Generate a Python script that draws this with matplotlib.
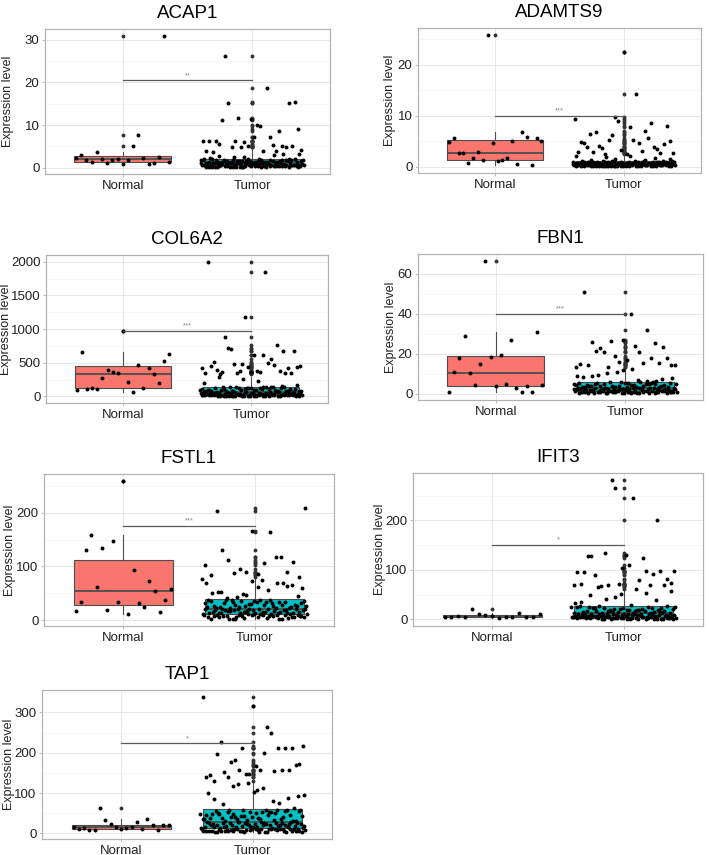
import numpy as np
import matplotlib
matplotlib.use("Agg")
import matplotlib.pyplot as plt
from matplotlib.ticker import MultipleLocator

plt.rcParams['font.family'] = ['Liberation Sans', 'DejaVu Sans']

# ---------- datos ----------
genes = ["ACAP1", "ADAMTS9", "COL6A2", "FBN1", "FSTL1", "IFIT3", "TAP1"]
groups = ["Normal", "Tumor"]

# Normal: valores en orden de izquierda a derecha
acap1_normal = [2.35, 2.9, 1.8, 1.3, 3.6, 1.95, 1.0, 1.8, 2.1, 0.85, 1.7, 5.1, 7.6, 2.3, 0.85, 1.2, 2.6, 31, 1.25]
adamts9_normal = [4.9, 5.7, 2.7, 2.6, 0.7, 1.7, 2.8, 1.2, 25.9, 4.6, 1.1, 1.3, 1.7, 5.1, 0.5, 6.8, 5.8, 0.3, 5.6, 5.1]
col6a2_normal = [99, 657, 118, 133, 114, 267, 390, 370, 346, 978, 212, 59, 474, 123, 425, 341, 198, 523, 632]
fbn1_normal = [0.8, 11.1, 18.0, 28.9, 10.6, 4.5, 15.0, 66.5, 18.3, 4.0, 19.6, 5.0, 27.1, 2.7, 0.7, 4.0, 1.0, 30.7, 4.2]
fstl1_normal = [17.5, 33, 130, 158, 62.5, 134, 18, 147, 33, 259, 11, 94, 32, 24, 72.5, 54, 16, 37, 58]
ifit3_normal = [5.3, 5.3, 6.7, 5.3, 20.7, 10.7, 8.7, 6.7, 2.7, 4.0, 5.3, 13.3, 4.0, 4.0, 10.7]
tap1_normal = [16, 10.6, 14.7, 8, 9, 63.6, 32.6, 23, 16, 11, 13, 16, 27.7, 12, 36.7, 20.4, 8, 20.4, 20.4]

# Tumor: puntos altos visibles (izq -> der)
acap1_tumor_hi = [6.3, 3.8, 6.2, 3.6, 6.2, 5.6, 11.1, 26.2, 15.1, 4.9, 6.3, 11.6, 4.9, 6.0, 5.2, 11.4, 7.3, 10.0,
                  9.7, 3.8, 18.6, 7.1, 5.3, 3.8, 8.5, 5.2, 4.9, 15.2, 5.2, 15.4, 9.1, 4.1]
adamts9_tumor_hi = [9.4, 2.8, 4.9, 4.7, 3.9, 6.4, 2.9, 6.8, 4.1, 3.7, 2.5, 5.3, 6.2, 9.8, 8.9, 3.2, 22.5, 2.4, 7.7,
                    5.2, 14.3, 4.6, 3.0, 6.9, 5.7, 8.6, 3.9, 3.5, 2.7, 4.4, 7.9, 5.0, 2.6]
col6a2_tumor_hi = [420, 346, 2000, 454, 509, 400, 341, 370, 884, 726, 706, 479, 346, 375, 479, 1185, 444, 370, 617,
                   380, 370, 617, 1850, 499, 558, 469, 760, 385, 681, 350, 430, 346, 681, 444, 449]
fbn1_tumor_hi = [13.6, 14.8, 51, 14.3, 26, 21.6, 22.8, 20.8, 13.6, 26.4, 19, 16, 27, 17, 40, 24, 20.8, 15.6, 32,
                 17.8, 25.3, 15.3, 23.6, 18.1, 14.5, 14.5]
fstl1_tumor_hi = [102, 84, 203, 131, 112, 88, 96, 90, 165, 85, 106, 164, 117, 117, 89, 109, 81, 209]
ifit3_tumor_hi = [70, 95, 72, 95, 128, 128, 90, 65, 67, 134, 70, 282, 266, 71, 104, 131, 110, 245, 62, 80, 125, 97,
                  70, 91, 201, 97, 70, 82, 73, 97]
tap1_tumor_hi = [339, 141, 145, 131, 196, 227, 152, 139, 176, 183, 157, 211, 148, 147, 315, 167, 157, 200, 263, 249,
                 155, 212, 157, 212, 157, 211, 170, 173, 217]

# Tumor: masa densa de abajo (estimada)
acap1_tumor_lo = [0.12, 0.35, 0.51, 0.08, 0.44, 0.27, 0.58, 0.19, 0.39, 0.55, 0.31, 0.06, 0.47, 0.22, 0.41, 0.15,
                  0.53, 0.29, 0.37, 0.10, 0.49, 0.25, 0.57, 0.33, 0.18, 0.45, 0.09, 0.52, 0.28, 0.40, 0.14, 0.56,
                  0.23, 0.36, 0.48, 0.11, 0.43, 0.30, 0.54, 0.20,
                  0.62, 0.95, 1.15, 0.71, 0.88, 1.05, 0.66, 0.99, 0.78, 1.18, 0.83, 0.69, 1.09, 0.92, 0.74, 1.12,
                  0.64, 0.86, 1.02, 0.97, 0.76, 1.14, 0.68, 0.90, 1.07, 0.81, 0.73, 1.17, 0.94, 0.63, 1.00, 0.85,
                  0.79, 1.11, 0.67, 0.93, 1.04, 0.72, 0.89, 1.19,
                  1.25, 1.62, 1.88, 1.34, 1.71, 1.45, 1.95, 1.28, 1.56, 1.80, 1.39, 1.67, 1.22, 1.91, 1.50, 1.76,
                  1.31, 1.59, 1.84, 1.42, 1.98, 1.27, 1.65, 1.48, 1.73, 1.36, 1.86, 1.53, 1.21, 1.69, 1.44, 1.93,
                  1.33, 1.78, 1.57, 1.24, 1.82, 1.40, 1.61, 1.97, 1.47,
                  2.2, 2.9, 2.5, 3.3, 2.1, 2.7, 3.1, 2.4, 2.05]
adamts9_tumor_lo = [0.05, 0.21, 0.12, 0.28, 0.08, 0.17, 0.25, 0.03, 0.14, 0.23, 0.10, 0.19, 0.27, 0.06, 0.16, 0.24,
                    0.09, 0.20, 0.13, 0.29, 0.04, 0.18, 0.26, 0.11, 0.22, 0.07, 0.15, 0.28, 0.10, 0.19, 0.25, 0.05,
                    0.14, 0.23, 0.08, 0.17, 0.27, 0.12, 0.21, 0.06, 0.16,
                    0.31, 0.45, 0.58, 0.36, 0.52, 0.41, 0.33, 0.49, 0.55, 0.38, 0.44, 0.32, 0.57, 0.47, 0.35, 0.51,
                    0.40, 0.59, 0.43, 0.34, 0.54, 0.39, 0.48, 0.30, 0.56, 0.42, 0.37, 0.50, 0.46, 0.53, 0.33, 0.44,
                    0.58, 0.36, 0.49, 0.41, 0.55, 0.38, 0.52, 0.47,
                    0.62, 0.85, 1.02, 0.71, 0.94, 0.66, 0.79, 1.08, 0.88, 0.74, 0.97, 0.64, 0.82, 1.05, 0.69, 0.91,
                    0.77, 1.00, 0.63, 0.86, 0.73, 0.95, 1.07, 0.68, 0.84, 0.99, 0.75, 0.61, 0.90, 1.04, 0.80, 0.67,
                    0.93, 0.72, 1.09, 0.87, 0.65, 0.98, 0.78, 0.83, 1.01,
                    1.3, 1.9, 1.5, 2.1, 1.2, 1.7, 1.4, 2.0]
col6a2_tumor_lo = [5, 18, 11, 23, 8, 15, 21, 4, 13, 19, 9, 24, 16, 6, 12, 22, 10, 17, 7, 20, 14, 3, 18, 11, 24, 8,
                   15, 21, 5, 13, 19, 9, 23, 16, 6, 12, 22, 10, 17, 14,
                   28, 45, 62, 33, 51, 38, 67, 30, 55, 42, 26, 48, 59, 35, 64, 40, 53, 29, 46, 68, 36, 57, 31, 44,
                   61, 27, 50, 39, 65, 34, 47, 58, 32, 43, 63, 37, 52, 41, 56, 49, 60, 35,
                   75, 110, 138, 88, 125, 95, 147, 82, 118, 102, 72, 133, 91, 115, 142, 79, 106, 128, 85, 98, 145,
                   77, 121, 93, 136, 108, 81, 113, 140, 73, 100, 130, 87, 119, 96, 144, 104, 84, 127, 90, 134, 78,
                   175, 230, 290, 160, 255, 200]
fbn1_tumor_lo = [0.3, 1.1, 0.7, 1.4, 0.5, 0.9, 1.2, 0.4, 0.8, 1.3, 0.6, 1.0, 0.2, 1.4, 0.7, 1.1, 0.5, 0.9, 1.3, 0.3,
                 0.8, 1.2, 0.6, 1.0, 0.4, 1.4, 0.7, 1.1, 0.5, 0.9, 1.3, 0.2, 0.8, 1.2, 0.6, 1.0, 0.4, 1.3, 0.9,
                 1.6, 2.3, 2.8, 1.9, 2.5, 1.7, 2.1, 2.9, 1.5, 2.4, 2.0, 2.7, 1.8, 2.2, 2.6, 1.6, 2.9, 2.0, 2.4, 1.7,
                 2.7, 1.9, 2.3, 2.8, 1.5, 2.1, 2.5, 1.8, 2.6, 2.2, 1.6, 2.9, 2.0, 2.4, 1.7, 2.8, 1.9, 2.3, 2.6,
                 3.2, 4.5, 5.6, 3.8, 4.9, 3.4, 5.2, 4.1, 5.8, 3.6, 4.7, 3.1, 5.4, 4.3, 3.9, 5.0, 3.3, 4.6, 5.7, 3.7,
                 4.2, 5.3, 3.5, 4.8, 5.9, 3.0, 4.4, 5.1, 3.6, 4.0, 5.5, 3.9, 4.7, 3.3, 5.2, 4.1, 5.8, 3.5, 4.9,
                 6.8, 9.5, 7.4, 11.8, 8.2, 6.3, 10.4, 7.9, 12.2, 8.8, 6.5, 10.9, 9.1]
fstl1_tumor_lo = [3, 8, 11, 5, 9, 4, 10, 7, 2, 6, 11, 8, 3, 9, 5, 10, 7, 4, 11, 6, 8, 3, 10, 5, 9, 2, 7, 11, 4, 8,
                  6, 10, 3, 9, 5, 7, 11,
                  13, 18, 15, 21, 12, 17, 20, 14, 19, 16, 13, 21, 15, 18, 12, 20, 14, 17, 19, 16, 21, 13, 18, 15,
                  12, 20, 17, 14, 19, 16, 13, 21, 18, 15, 20, 14, 17,
                  24, 31, 37, 27, 34, 23, 29, 36, 26, 33, 38, 25, 30, 35, 22, 28, 32, 37, 24, 34, 27, 31, 38, 23,
                  29, 35, 26, 33, 25, 36, 28, 32, 22, 30, 37, 27, 34,
                  45, 62, 53, 70, 48, 76, 57, 41, 66, 72, 50, 69, 44, 59, 74, 53, 64, 47, 69]
ifit3_tumor_lo = [1.2, 3.5, 2.1, 4.6, 0.8, 2.8, 4.0, 1.6, 3.2, 0.6, 2.4, 4.4, 1.9, 3.8, 1.0, 2.6, 4.8, 1.4, 3.0, 2.2,
                  4.2, 0.9, 3.6, 1.7, 2.9, 4.7, 1.3, 3.3, 2.0, 4.1, 0.7, 2.5, 3.9, 1.5, 4.5, 2.7, 1.1, 3.4, 2.3, 3.7,
                  5.5, 8.7, 11.2, 6.4, 9.8, 7.1, 10.5, 5.9, 8.2, 11.7, 6.8, 9.3, 7.6, 10.9, 5.2, 8.9, 6.1, 11.4,
                  7.3, 9.6, 10.2, 5.7, 8.4, 6.6, 11.9, 7.9, 9.1, 5.3, 10.7, 6.9, 8.0, 11.0, 7.4, 9.5, 6.2, 10.3,
                  5.8, 8.6, 7.7, 10.1,
                  13, 19, 25, 16, 22, 14, 20, 26, 17, 23, 12, 18, 24, 15, 21, 13, 19, 26, 16, 22, 14, 25, 17, 20,
                  12, 23, 18, 15, 24, 21, 13, 26, 19, 16, 22, 14, 25, 18, 17, 23,
                  51, 36, 54, 42, 58, 30, 49, 39, 46, 33]
tap1_tumor_lo = [5, 11, 8, 3, 12, 7, 10, 4, 9, 6, 12, 5, 8, 11, 3, 10, 7, 4, 9, 6, 11, 8, 5, 12, 3, 10, 7, 9, 4, 6,
                 11, 8, 5, 12, 10, 7, 3, 9, 6, 4, 7, 10, 5, 12,
                 15, 24, 19, 28, 14, 21, 26, 17, 23, 29, 13, 20, 25, 16, 22, 27, 18, 14, 24, 19, 28, 15, 21, 26,
                 17, 23, 29, 13, 20, 25, 16, 22, 27, 18, 24, 15, 21, 28, 19, 26, 17, 23, 20, 27,
                 33, 47, 55, 38, 51, 42, 59, 35, 45, 53, 31, 40, 49, 57, 36, 44, 52, 39, 58, 34, 46, 54, 41, 32,
                 50, 56, 37, 43, 48, 59, 30, 45, 53, 38, 51, 42, 57, 35, 47, 55, 44, 36, 52, 58,
                 62, 104, 85, 76, 122, 96, 112, 72, 88, 126, 100, 81, 117, 93, 108]

# Barra de significancia
sig_y = [20.5, 10, 975, 40, 176, 150, 224]
sig_label = ["**", "***", "***", "***", "***", "*", "*"]

normals = [acap1_normal, adamts9_normal, col6a2_normal, fbn1_normal, fstl1_normal, ifit3_normal, tap1_normal]
tumors_hi = [acap1_tumor_hi, adamts9_tumor_hi, col6a2_tumor_hi, fbn1_tumor_hi, fstl1_tumor_hi, ifit3_tumor_hi,
             tap1_tumor_hi]
tumors_lo = [acap1_tumor_lo, adamts9_tumor_lo, col6a2_tumor_lo, fbn1_tumor_lo, fstl1_tumor_lo, ifit3_tumor_lo,
             tap1_tumor_lo]

# ---------- layout ----------
W, H = 709, 855
# (izq, arriba, der, abajo) en pixeles
panel_px = [(45, 29, 330, 174), (418, 28, 701, 173),
            (46, 255, 328, 403), (418, 254, 703, 400),
            (44, 474, 334, 626), (413, 473, 703, 626),
            (42, 690, 332, 839)]
ylab_px = [14, 396, 12, 397, 16, 386, 15]   # borde derecho del título del eje y
tick_step = [10, 10, 500, 20, 100, 100, 100]

salmon = "#F8766D"
teal = "#00BFC4"
edge = "#4D4D4D"
border = "#B3B3B3"
txt = "#222222"

fig = plt.figure(figsize=(W / 100, H / 100), dpi=100)

for i, gene in enumerate(genes):
    l, t, r, b = panel_px[i]
    ax = fig.add_axes([l / W, 1 - b / H, (r - l) / W, (b - t) / H])
    normal = normals[i]
    t_hi = tumors_hi[i]
    t_lo = tumors_lo[i]
    tumor = t_hi + t_lo

    allv = normal + tumor
    lo, hi = min(allv), max(allv)
    span = hi - lo
    ax.set_ylim(lo - 0.05 * span, hi + 0.05 * span)
    ax.set_xlim(0.4, 2.6)

    bp = ax.boxplot([normal, tumor], positions=[1, 2], widths=0.75, patch_artist=True,
                    showcaps=False, whis=1.5, zorder=2,
                    medianprops=dict(color=edge, lw=1.3),
                    whiskerprops=dict(color=edge, lw=0.8),
                    boxprops=dict(edgecolor=edge, lw=0.8),
                    flierprops=dict(marker='o', markerfacecolor='#333333', markeredgecolor='none',
                                    markersize=2.8))
    for patch, c in zip(bp['boxes'], [salmon, teal]):
        patch.set_facecolor(c)

    # jitter deterministico
    xn = 1 + np.linspace(-0.36, 0.36, len(normal))
    xh = 2 + np.linspace(-0.38, 0.38, len(t_hi))
    xl = 2 + ((np.arange(len(t_lo)) * 0.6180339887 + 0.31) % 1 - 0.5) * 0.8
    for xs, ys in [(xn, normal), (xh, t_hi), (xl, t_lo)]:
        ax.scatter(xs, ys, s=8, c="black", linewidths=0, zorder=3)

    # significancia
    ax.plot([1, 2], [sig_y[i], sig_y[i]], color="#5A5A5A", lw=0.9, zorder=4)
    ax.text(1.5, sig_y[i] + 0.035 * span, sig_label[i], fontsize=5.5, color="#888888",
            ha="center", va="center", zorder=4)

    ax.set_xticks([1, 2])
    ax.set_xticklabels(groups, fontsize=9.5, color=txt)
    ax.yaxis.set_major_locator(MultipleLocator(tick_step[i]))
    ax.yaxis.set_minor_locator(MultipleLocator(tick_step[i] / 2))
    ax.tick_params(axis="y", labelsize=9.5, labelcolor=txt)
    ax.tick_params(which="major", length=2.5, width=0.6, color=border, pad=1.5)
    ax.tick_params(which="minor", length=0)

    ax.grid(which="major", color="#E3E3E3", lw=0.6)
    ax.grid(which="minor", axis="y", color="#F0F0F0", lw=0.4)
    ax.set_axisbelow(True)
    for sp in ax.spines.values():
        sp.set_color(border)
        sp.set_linewidth(0.9)

    ax.set_ylabel("Expression level", fontsize=9, color=txt)
    ax.yaxis.set_label_coords((ylab_px[i] - l) / (r - l), 0.5)
    ax.set_title(gene, fontsize=13.5, color="black", pad=8)

fig.savefig("out.png", dpi=100)
